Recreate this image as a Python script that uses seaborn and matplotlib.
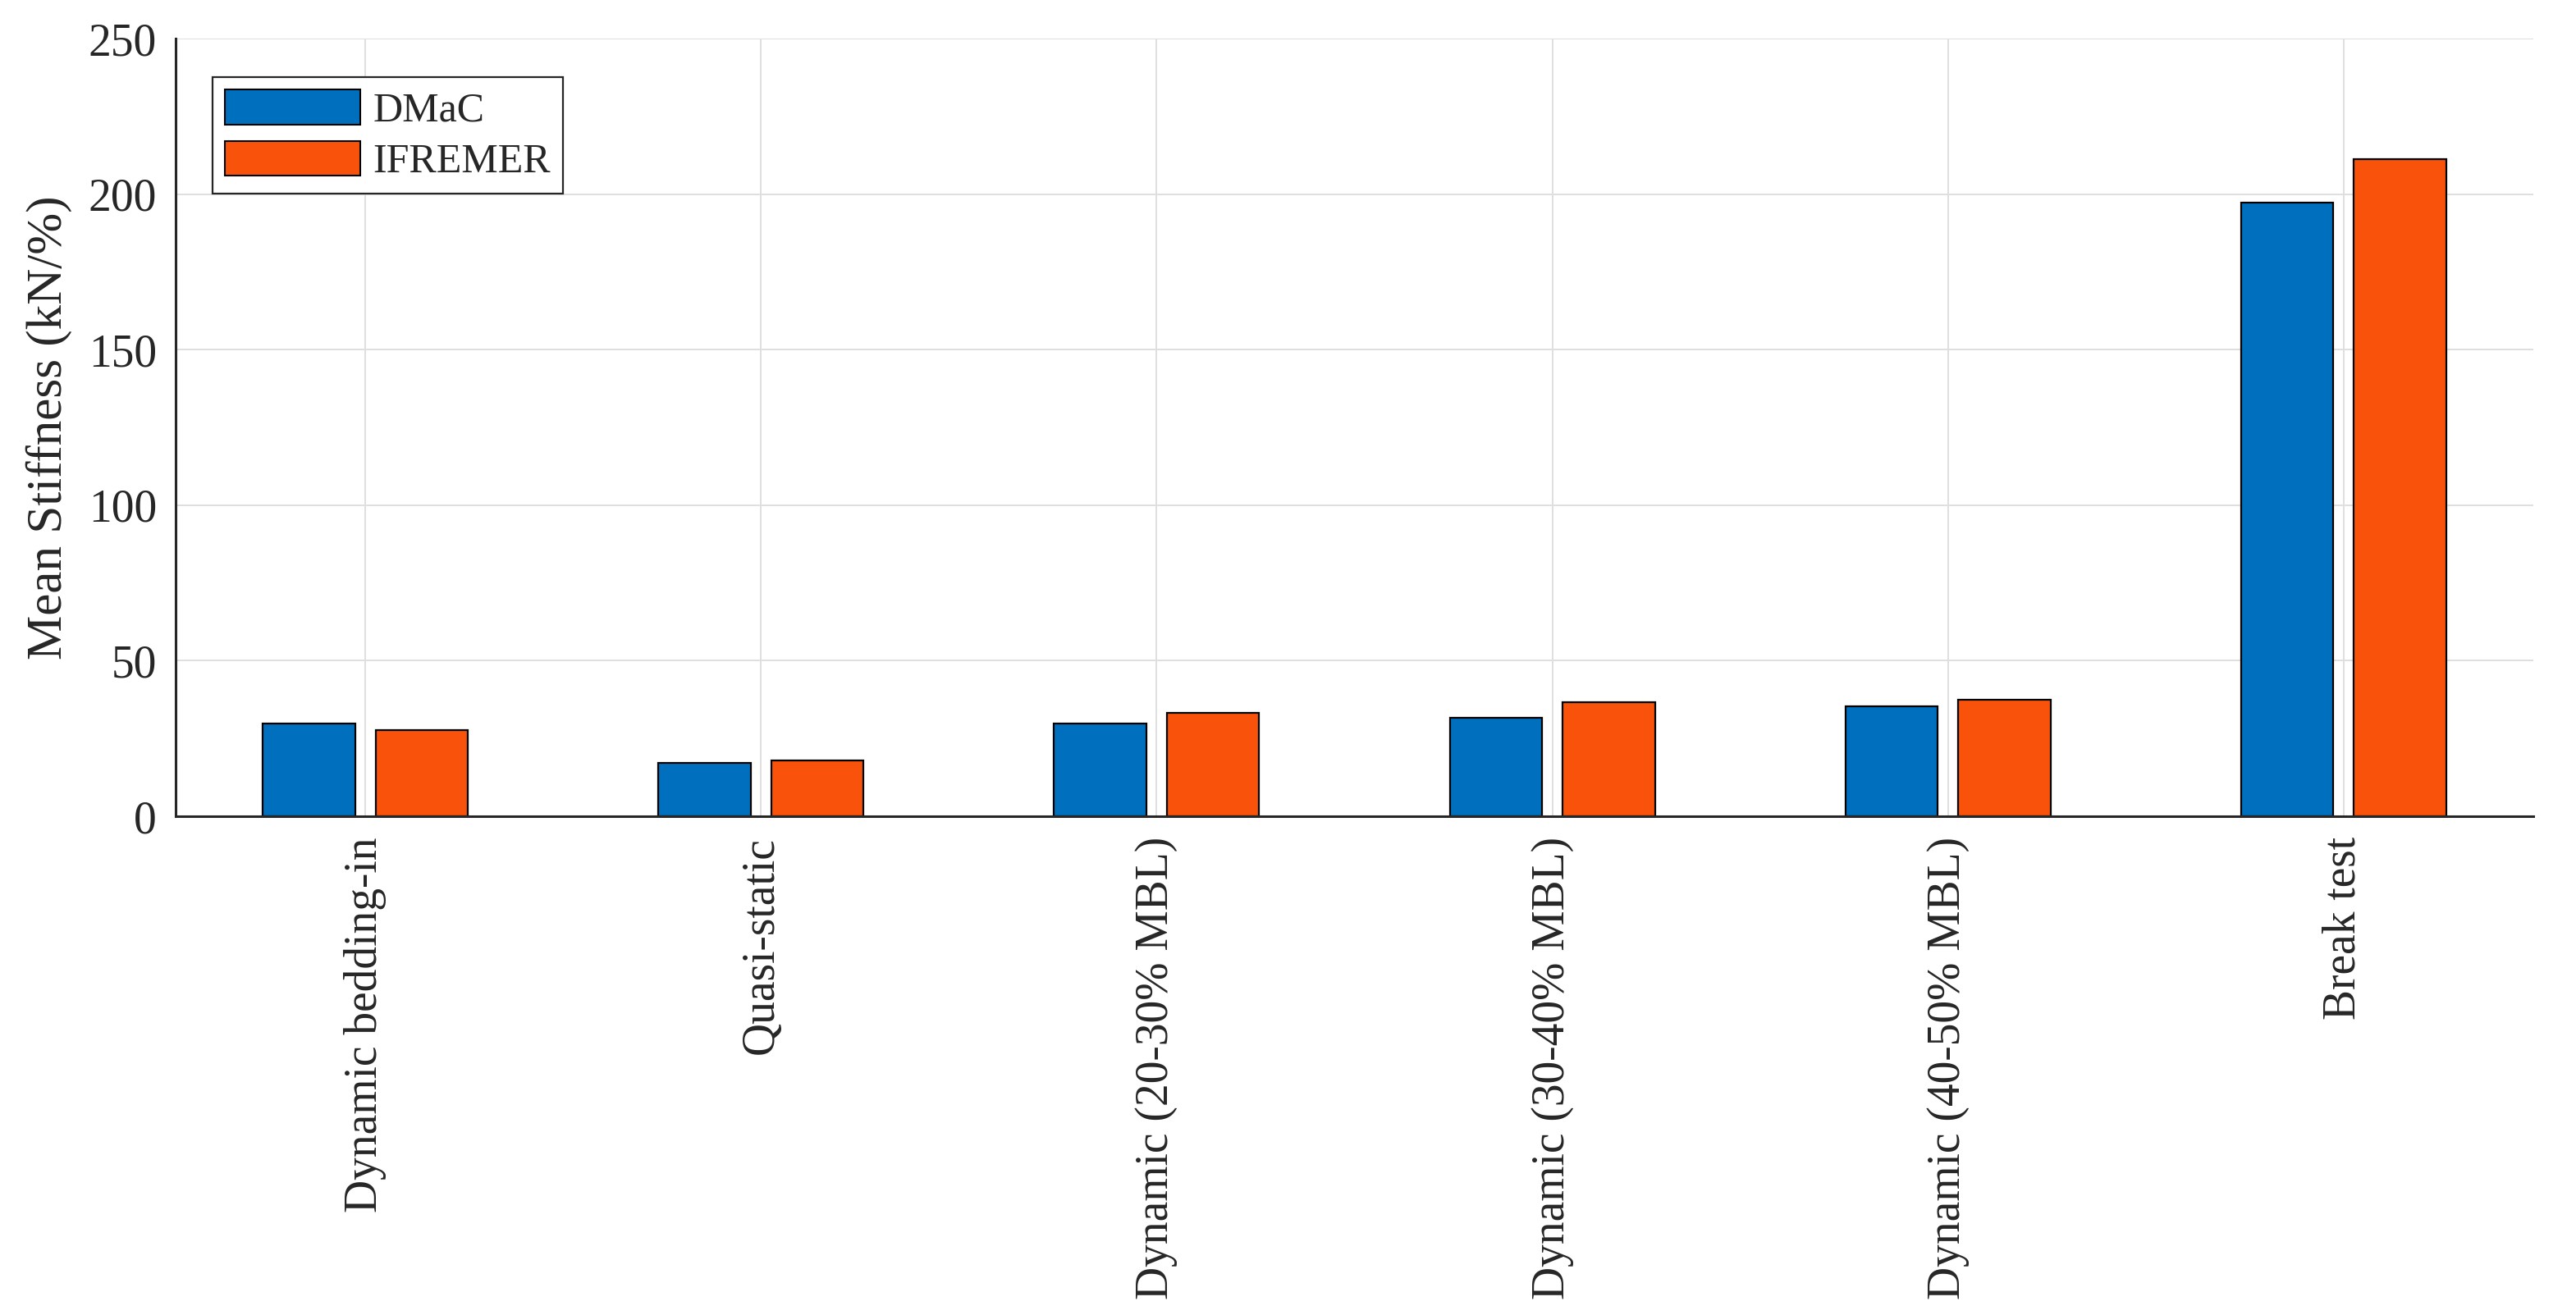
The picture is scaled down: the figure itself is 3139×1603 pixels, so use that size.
import matplotlib
matplotlib.use("Agg")
import matplotlib.pyplot as plt
import seaborn as sns
import pandas as pd

# ---- data ----
categories = ["Dynamic bedding-in", "Quasi-static", "Dynamic (20-30% MBL)",
              "Dynamic (30-40% MBL)", "Dynamic (40-50% MBL)", "Break test"]
dmac = [29.7, 17.1, 29.7, 31.7, 35.3, 197.2]
ifremer = [27.7, 17.9, 33.1, 36.7, 37.4, 211.2]
series_names = ["DMaC", "IFREMER"]
yticks = [0, 50, 100, 150, 200, 250]

colors = ["#0070BE", "#F9530B"]

df = pd.DataFrame({
    "Test": categories * 2,
    "Stiffness": dmac + ifremer,
    "Source": [series_names[0]] * len(categories) + [series_names[1]] * len(categories),
})

sns.set_style("white")
plt.rcParams["font.family"] = ["Liberation Serif", "DejaVu Serif"]

W, H = 3139, 1603
fig = plt.figure(figsize=(W / 100, H / 100), dpi=100)
ax = fig.add_axes([214 / W, 1 - 995 / H, (3087 - 214) / W, (995 - 47) / H])

sns.barplot(data=df, x="Test", y="Stiffness", hue="Source", order=categories,
            hue_order=series_names, palette=colors, width=0.57, gap=0.18,
            edgecolor="black", linewidth=1.6, saturation=1, ax=ax, zorder=3)

ax.set_xlim(-0.48, len(categories) - 0.52)
ax.set_ylim(0, 250)
ax.set_yticks(yticks)
ax.set_xlabel("")
ax.set_ylabel("Mean Stiffness (kN/%)", fontsize=44, color="#262626")
ax.yaxis.set_label_coords(-0.044, 0.5)

ax.grid(True, color="#DFDFDF", linewidth=1.4, zorder=0)
ax.set_axisbelow(True)

for s in ["top", "right"]:
    ax.spines[s].set_visible(False)
for s in ["left", "bottom"]:
    ax.spines[s].set_color("#262626")
    ax.spines[s].set_linewidth(2.2)
    ax.spines[s].set_zorder(4)

ax.tick_params(axis="both", direction="in", length=20, width=1.4, color="#262626",
               labelsize=40, labelcolor="#262626")
ax.tick_params(axis="y", pad=16.5)
ax.tick_params(axis="x", pad=18)
for lab in ax.get_xticklabels():
    lab.set_rotation(90)
    lab.set_ha("center")
    lab.set_va("top")

leg = ax.legend(loc="upper left", bbox_to_anchor=(0.0157, 0.950), borderaxespad=0,
                fontsize=36, frameon=True, fancybox=False, framealpha=1,
                edgecolor="#262626", handlelength=3.3, handleheight=0.92,
                labelspacing=0.26, handletextpad=0.3, borderpad=0.3)
leg.get_frame().set_linewidth(1.6)
for p in leg.get_patches():
    p.set_edgecolor("black")
    p.set_linewidth(1.5)

fig.savefig("out.png", dpi=100)
